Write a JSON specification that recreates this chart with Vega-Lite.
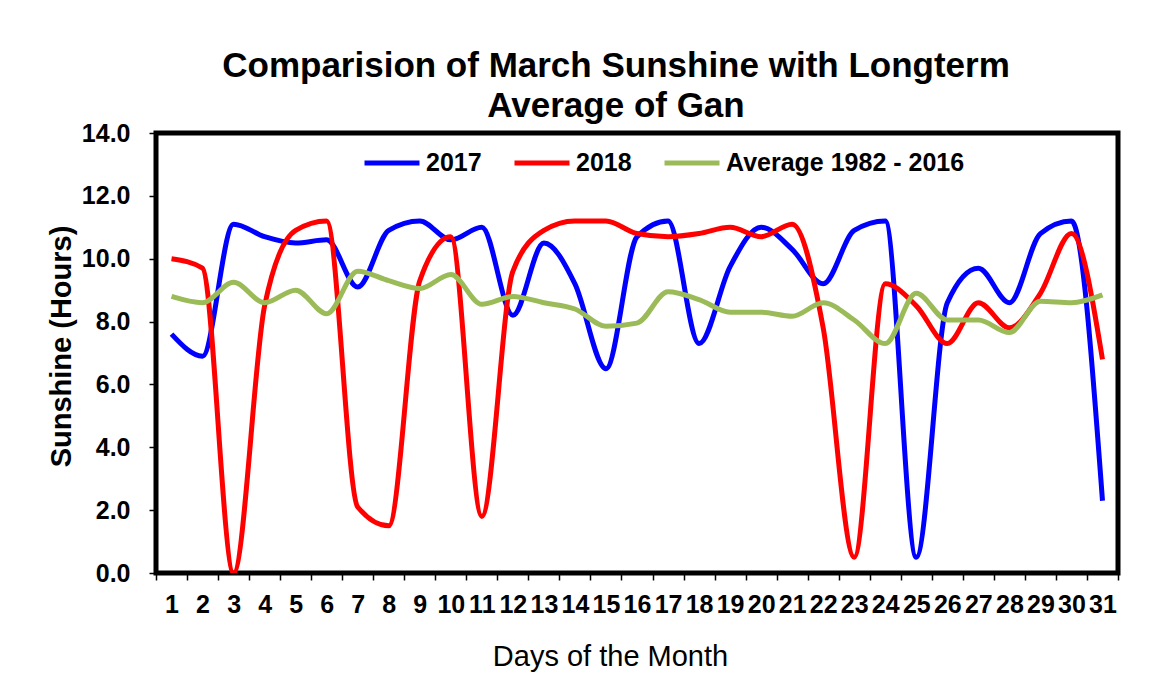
{
  "$schema": "https://vega.github.io/schema/vega-lite/v6.json",
  "width": 962,
  "height": 440,
  "autosize": {"type": "none"},
  "padding": {"left": 156, "top": 133, "right": 33, "bottom": 118},
  "background": "white",
  "title": {
    "text": ["Comparision of March Sunshine with Longterm", "Average of Gan"],
    "font": "Liberation Sans",
    "fontSize": 35,
    "fontWeight": "bold",
    "color": "black",
    "anchor": "middle",
    "frame": "group",
    "dx": -21,
    "offset": -3,
    "lineHeight": 40
  },
  "config": {"view": {"stroke": "black", "strokeWidth": 5}},
  "data": {
    "values": [
      {"day": 1, "series": "2017", "value": 7.6},
      {"day": 2, "series": "2017", "value": 6.9},
      {"day": 3, "series": "2017", "value": 11.1},
      {"day": 4, "series": "2017", "value": 10.7},
      {"day": 5, "series": "2017", "value": 10.5},
      {"day": 6, "series": "2017", "value": 10.6},
      {"day": 7, "series": "2017", "value": 9.1},
      {"day": 8, "series": "2017", "value": 10.9},
      {"day": 9, "series": "2017", "value": 11.2},
      {"day": 10, "series": "2017", "value": 10.6},
      {"day": 11, "series": "2017", "value": 11.0},
      {"day": 12, "series": "2017", "value": 8.2},
      {"day": 13, "series": "2017", "value": 10.5},
      {"day": 14, "series": "2017", "value": 9.2},
      {"day": 15, "series": "2017", "value": 6.5},
      {"day": 16, "series": "2017", "value": 10.7},
      {"day": 17, "series": "2017", "value": 11.2},
      {"day": 18, "series": "2017", "value": 7.3},
      {"day": 19, "series": "2017", "value": 9.75},
      {"day": 20, "series": "2017", "value": 11.0},
      {"day": 21, "series": "2017", "value": 10.3},
      {"day": 22, "series": "2017", "value": 9.2},
      {"day": 23, "series": "2017", "value": 10.9},
      {"day": 24, "series": "2017", "value": 11.2},
      {"day": 25, "series": "2017", "value": 0.5},
      {"day": 26, "series": "2017", "value": 8.6},
      {"day": 27, "series": "2017", "value": 9.7},
      {"day": 28, "series": "2017", "value": 8.6},
      {"day": 29, "series": "2017", "value": 10.8},
      {"day": 30, "series": "2017", "value": 11.2},
      {"day": 31, "series": "2017", "value": 2.3},
      {"day": 1, "series": "2018", "value": 10.0},
      {"day": 2, "series": "2018", "value": 9.7},
      {"day": 3, "series": "2018", "value": 0.0},
      {"day": 4, "series": "2018", "value": 8.5},
      {"day": 5, "series": "2018", "value": 10.9},
      {"day": 6, "series": "2018", "value": 11.2},
      {"day": 7, "series": "2018", "value": 2.1},
      {"day": 8, "series": "2018", "value": 1.5},
      {"day": 9, "series": "2018", "value": 9.3},
      {"day": 10, "series": "2018", "value": 10.7},
      {"day": 11, "series": "2018", "value": 1.8},
      {"day": 12, "series": "2018", "value": 9.6},
      {"day": 13, "series": "2018", "value": 10.9},
      {"day": 14, "series": "2018", "value": 11.2},
      {"day": 15, "series": "2018", "value": 11.2},
      {"day": 16, "series": "2018", "value": 10.8},
      {"day": 17, "series": "2018", "value": 10.7},
      {"day": 18, "series": "2018", "value": 10.8},
      {"day": 19, "series": "2018", "value": 11.0},
      {"day": 20, "series": "2018", "value": 10.7},
      {"day": 21, "series": "2018", "value": 11.1},
      {"day": 22, "series": "2018", "value": 7.8},
      {"day": 23, "series": "2018", "value": 0.5},
      {"day": 24, "series": "2018", "value": 9.2},
      {"day": 25, "series": "2018", "value": 8.5},
      {"day": 26, "series": "2018", "value": 7.3},
      {"day": 27, "series": "2018", "value": 8.6},
      {"day": 28, "series": "2018", "value": 7.8},
      {"day": 29, "series": "2018", "value": 8.9},
      {"day": 30, "series": "2018", "value": 10.8},
      {"day": 31, "series": "2018", "value": 6.8},
      {"day": 1, "series": "Average 1982 - 2016", "value": 8.8},
      {"day": 2, "series": "Average 1982 - 2016", "value": 8.6},
      {"day": 3, "series": "Average 1982 - 2016", "value": 9.25},
      {"day": 4, "series": "Average 1982 - 2016", "value": 8.6},
      {"day": 5, "series": "Average 1982 - 2016", "value": 9.0},
      {"day": 6, "series": "Average 1982 - 2016", "value": 8.25},
      {"day": 7, "series": "Average 1982 - 2016", "value": 9.6},
      {"day": 8, "series": "Average 1982 - 2016", "value": 9.3},
      {"day": 9, "series": "Average 1982 - 2016", "value": 9.05},
      {"day": 10, "series": "Average 1982 - 2016", "value": 9.5},
      {"day": 11, "series": "Average 1982 - 2016", "value": 8.55},
      {"day": 12, "series": "Average 1982 - 2016", "value": 8.8},
      {"day": 13, "series": "Average 1982 - 2016", "value": 8.6},
      {"day": 14, "series": "Average 1982 - 2016", "value": 8.4},
      {"day": 15, "series": "Average 1982 - 2016", "value": 7.85},
      {"day": 16, "series": "Average 1982 - 2016", "value": 7.95},
      {"day": 17, "series": "Average 1982 - 2016", "value": 8.95},
      {"day": 18, "series": "Average 1982 - 2016", "value": 8.7},
      {"day": 19, "series": "Average 1982 - 2016", "value": 8.3},
      {"day": 20, "series": "Average 1982 - 2016", "value": 8.3},
      {"day": 21, "series": "Average 1982 - 2016", "value": 8.17},
      {"day": 22, "series": "Average 1982 - 2016", "value": 8.6},
      {"day": 23, "series": "Average 1982 - 2016", "value": 8.05},
      {"day": 24, "series": "Average 1982 - 2016", "value": 7.3},
      {"day": 25, "series": "Average 1982 - 2016", "value": 8.9},
      {"day": 26, "series": "Average 1982 - 2016", "value": 8.05},
      {"day": 27, "series": "Average 1982 - 2016", "value": 8.05},
      {"day": 28, "series": "Average 1982 - 2016", "value": 7.65},
      {"day": 29, "series": "Average 1982 - 2016", "value": 8.65},
      {"day": 30, "series": "Average 1982 - 2016", "value": 8.6},
      {"day": 31, "series": "Average 1982 - 2016", "value": 8.85}
    ]
  },
  "mark": {"type": "line", "interpolate": "monotone", "strokeWidth": 5, "clip": true},
  "encoding": {
    "x": {
      "field": "day",
      "type": "ordinal",
      "bandPosition": 0.5,
      "scale": {"type": "band", "paddingInner": 0, "paddingOuter": 0},
      "axis": {
        "title": "Days of the Month",
        "titleFont": "Liberation Sans",
        "titleFontSize": 29,
        "titleFontWeight": "normal",
        "titleColor": "black",
        "titlePadding": 25,
        "titleX": 454,
        "labelAngle": 0,
        "labelFont": "Liberation Sans",
        "labelFontSize": 25,
        "labelFontWeight": "bold",
        "labelColor": "black",
        "labelPadding": 12,
        "labelOverlap": false,
        "tickBand": "extent",
        "tickSize": 7,
        "tickColor": "black",
        "tickWidth": 1.5,
        "domain": false,
        "grid": false
      }
    },
    "y": {
      "field": "value",
      "type": "quantitative",
      "scale": {"domain": [0, 14], "nice": false},
      "axis": {
        "title": "Sunshine (Hours)",
        "titleFont": "Liberation Sans",
        "titleFontSize": 29,
        "titleFontWeight": "bold",
        "titleColor": "black",
        "titlePadding": 5,
        "titleY": 213,
        "values": [0, 2, 4, 6, 8, 10, 12, 14],
        "format": ".1f",
        "labelFont": "Liberation Sans",
        "labelFontSize": 25,
        "labelFontWeight": "bold",
        "labelColor": "black",
        "labelPadding": 19,
        "tickSize": 7,
        "tickColor": "black",
        "tickWidth": 1.5,
        "domain": false,
        "grid": false
      }
    },
    "color": {
      "field": "series",
      "type": "nominal",
      "scale": {
        "domain": ["2017", "2018", "Average 1982 - 2016"],
        "range": ["#0000FF", "#FF0000", "#9BBB59"]
      },
      "legend": {
        "orient": "none",
        "legendX": 206,
        "legendY": 0,
        "direction": "horizontal",
        "title": null,
        "symbolType": "stroke",
        "symbolSize": 3025,
        "symbolStrokeWidth": 5,
        "labelFont": "Liberation Sans",
        "labelFontSize": 25,
        "labelFontWeight": "bold",
        "labelColor": "black",
        "labelOffset": 4,
        "labelLimit": 400,
        "columnPadding": 22,
        "padding": 0
      }
    }
  }
}
